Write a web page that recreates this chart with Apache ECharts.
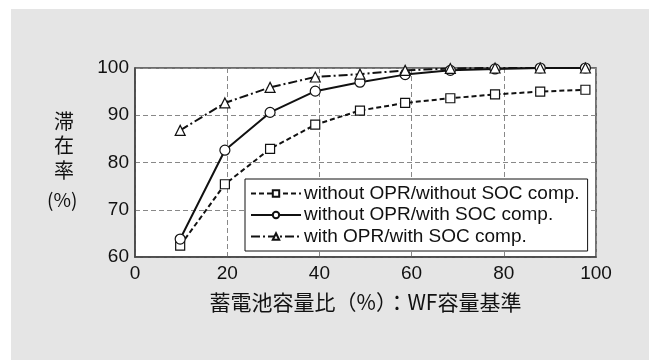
<!DOCTYPE html>
<html lang="ja">
<head>
    <meta charset="UTF-8">
    <title>滞在率</title>
    <script src="https://cdn.jsdelivr.net/npm/echarts@6/dist/echarts.min.js"></script>
    <style>
        html, body { margin: 0; padding: 0; background: #fff; }
    </style>
</head>
<body>
    <div id="main" style="width: 649px;height: 360px;"></div>
    <script>
        // 蓄電池容量比 (%)
        var capRatio = [9.8, 19.5, 29.3, 39.1, 48.8, 58.6, 68.4, 78.1, 87.9, 97.7];
        // 滞在率 (%)
        var noOprNoSoc = [62.4, 75.4, 82.9, 88.0, 91.0, 92.6, 93.6, 94.4, 95.0, 95.4];
        var noOprSoc = [63.8, 82.6, 90.6, 95.1, 97.0, 98.6, 99.5, 99.8, 100, 100];
        var oprSoc = [86.8, 92.6, 95.9, 98.1, 98.7, 99.5, 99.9, 100, 100, 100];
        var seriesNames = ['without OPR/without SOC comp.', 'without OPR/with SOC comp.', 'with OPR/with SOC comp.'];

        function pairs(ys) {
            var out = [];
            for (var i = 0; i < capRatio.length; i++) {
                out.push([capRatio[i], ys[i]]);
            }
            return out;
        }

        var numFont = 'Liberation Sans, Arial, sans-serif';
        var jpFont = 'Noto Sans CJK JP, sans-serif';

        var mychart = echarts.init(document.getElementById('main'));

        var options = {
            animation: false,
            graphic: [{
                type: 'rect',
                z: -10,
                shape: {x: 11, y: 9, width: 640, height: 360},
                style: {fill: '#e5e5e5'}
            }, {
                type: 'text',
                left: 54,
                top: 109,
                style: {
                    text: '滞\n在\n率',
                    font: '20px ' + jpFont,
                    lineHeight: 24.5,
                    fill: '#111'
                }
            }, {
                type: 'text',
                left: 47,
                top: 190,
                style: {
                    text: '(%)',
                    font: '19px ' + jpFont,
                    fill: '#111'
                }
            }],
            grid: {
                left: 135,
                right: 53,
                top: 68,
                bottom: 103,
                show: true,
                backgroundColor: '#fff',
                borderColor: '#444',
                borderWidth: 1.5
            },
            legend: {
                orient: 'vertical',
                left: 245,
                top: 179,
                backgroundColor: '#fff',
                borderColor: '#111',
                borderWidth: 1,
                padding: [5, 8, 5, 5],
                itemGap: 2.5,
                itemWidth: 50,
                itemHeight: 8,
                textStyle: {fontFamily: numFont, fontSize: 19, lineHeight: 19, color: '#111', padding: [0, 0, 0, -2]},
                data: seriesNames
            },
            xAxis: {
                type: 'value',
                min: 0,
                max: 100,
                interval: 20,
                name: '蓄電池容量比（%）：WF容量基準',
                nameLocation: 'middle',
                nameGap: 35,
                nameTextStyle: {fontFamily: jpFont, fontSize: 21, color: '#111'},
                axisLine: {show: true, lineStyle: {color: '#444', width: 1.5}},
                axisTick: {show: false},
                axisLabel: {fontFamily: numFont, fontSize: 19, color: '#111', margin: 7},
                splitLine: {show: true, lineStyle: {color: '#888', type: [5, 3], width: 1}}
            },
            yAxis: {
                type: 'value',
                min: 60,
                max: 100,
                interval: 10,
                axisLine: {show: true, lineStyle: {color: '#444', width: 1.5}},
                axisTick: {show: false},
                axisLabel: {fontFamily: numFont, fontSize: 19, color: '#111', margin: 6},
                splitLine: {show: true, lineStyle: {color: '#888', type: [5, 3], width: 1}}
            },
            series: [{
                name: seriesNames[0],
                type: 'line',
                data: pairs(noOprNoSoc),
                symbol: 'rect',
                symbolSize: 9,
                itemStyle: {color: '#fff', borderColor: '#111', borderWidth: 1.2},
                lineStyle: {color: '#111', width: 2, type: [5, 3]}
            }, {
                name: seriesNames[1],
                type: 'line',
                data: pairs(noOprSoc),
                symbol: 'circle',
                symbolSize: 10,
                itemStyle: {color: '#fff', borderColor: '#111', borderWidth: 1.2},
                lineStyle: {color: '#111', width: 2, type: 'solid'}
            }, {
                name: seriesNames[2],
                type: 'line',
                data: pairs(oprSoc),
                symbol: 'triangle',
                symbolSize: 10,
                itemStyle: {color: '#fff', borderColor: '#111', borderWidth: 1.2},
                lineStyle: {color: '#111', width: 2, type: [9, 3, 2, 3]}
            }]
        };

        mychart.setOption(options);
    </script>
</body>
</html>
